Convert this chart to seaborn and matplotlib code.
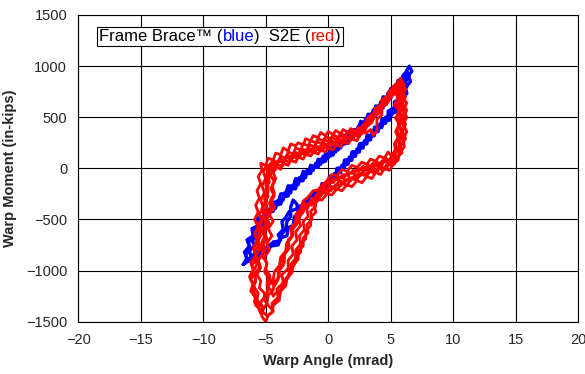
import pandas as pd
import matplotlib
matplotlib.use("Agg")
import matplotlib.pyplot as plt
import seaborn as sns
from matplotlib.offsetbox import TextArea, HPacker, AnchoredOffsetbox

# warp angle (mrad), warp moment (in-kips) traced off the loops, noise included
# Frame Brace (blue)
blue_c1 = [(-6.8,-940),(-6.5,-880),(-6.7,-820),(-6.3,-760),(-6.5,-700),(-6.0,-660),(-6.1,-590),(-5.6,-560),
           (-5.7,-490),(-5.2,-470),(-5.0,-400),(-4.6,-400),(-4.4,-330),(-4.0,-330),(-3.8,-250),(-3.4,-250),
           (-3.2,-170),(-2.8,-180),(-2.6,-100),(-2.2,-110),(-2.0,-30),(-1.6,-50),(-1.4,30),(-1.0,10),
           (-0.8,90),(-0.4,60),(-0.2,150),(0.2,120),(0.4,210),(0.8,180),(1.0,260),(1.4,240),(1.6,320),
           (2.0,290),(2.2,380),(2.6,350),(2.8,450),(3.2,420),(3.4,530),(3.8,510),(4.0,610),(4.4,590),
           (4.6,690),(5.0,680),(5.2,780),(5.6,770),(5.8,870),(6.1,880),(6.3,960),(6.5,1000),
           (6.7,950),(6.4,900),(6.6,850),(6.2,790),(6.3,730),(5.8,700),(5.9,640),(5.4,610),(5.4,550),
           (4.9,530),(4.9,470),(4.4,460),(4.3,400),(3.8,390),(3.7,320),(3.2,310),(3.1,240),(2.6,230),
           (2.5,160),(2.0,150),(1.9,80),(1.4,70),(1.3,0),(0.8,-10),(0.7,-80),(0.2,-90),(0.1,-160),
           (-0.4,-160),(-0.5,-230),(-1.0,-230),(-1.1,-300),(-1.6,-300),(-1.8,-370),(-2.2,-380),
           (-2.3,-460),(-2.7,-470),(-2.8,-560),(-3.2,-580),(-3.3,-660),(-3.8,-680),(-4.0,-750),
           (-4.6,-760),(-4.9,-820),(-5.5,-830),(-5.8,-890),(-6.3,-900),(-6.8,-940)]
blue_c2 = [(-6.5,-900),(-6.6,-840),(-6.2,-790),(-6.4,-720),(-5.9,-690),(-6.0,-620),(-5.5,-590),(-5.6,-520),
           (-5.0,-500),(-4.9,-440),(-4.4,-420),(-4.3,-360),(-3.8,-350),(-3.6,-280),(-3.2,-270),(-3.1,-200),
           (-2.6,-200),(-2.5,-130),(-2.0,-120),(-1.9,-50),(-1.4,-50),(-1.2,20),(-0.8,10),(-0.6,90),
           (-0.2,70),(0.0,150),(0.4,130),(0.6,220),(1.0,200),(1.2,280),(1.6,260),(1.8,350),(2.2,330),
           (2.4,410),(2.8,400),(3.0,490),(3.4,470),(3.6,570),(4.0,550),(4.2,650),(4.6,640),(4.8,740),
           (5.2,730),(5.4,820),(5.8,830),(6.0,910),(6.3,950),
           (6.5,900),(6.2,860),(6.3,800),(5.9,760),(6.0,700),(5.6,670),(5.6,610),(5.1,580),(5.1,520),
           (4.6,500),(4.6,440),(4.1,430),(4.0,360),(3.5,350),(3.4,280),(2.9,270),(2.8,200),(2.3,190),
           (2.2,120),(1.7,110),(1.6,40),(1.1,30),(1.0,-40),(0.5,-50),(0.4,-120),(-0.1,-130),(-0.2,-190),
           (-0.7,-200),(-0.8,-260),(-1.3,-270),(-1.4,-340),(-1.9,-340),(-2.0,-420),(-2.4,-430),
           (-2.5,-350),(-2.8,-310),(-3.0,-380),(-3.0,-470),(-3.3,-520),(-3.4,-600),(-3.7,-640),
           (-3.9,-710),(-4.4,-720),(-4.7,-780),(-5.3,-790),(-5.6,-850),(-6.1,-860),(-6.5,-900)]
blue_c3 = [(-6.2,-860),(-6.3,-800),(-5.9,-760),(-6.1,-690),(-5.6,-660),(-5.7,-590),(-5.2,-560),(-5.3,-490),
           (-4.8,-470),(-4.7,-410),(-4.2,-390),(-4.1,-320),(-3.6,-310),(-3.5,-240),(-3.0,-240),(-2.9,-170),
           (-2.4,-160),(-2.3,-90),(-1.8,-90),(-1.7,-20),(-1.2,-20),(-1.0,50),(-0.6,40),(-0.4,120),
           (0.0,100),(0.2,180),(0.6,160),(0.8,240),(1.2,230),(1.4,310),(1.8,300),(2.0,380),(2.4,370),
           (2.6,460),(3.0,440),(3.2,530),(3.6,520),(3.8,610),(4.2,600),(4.4,700),(4.8,690),(5.0,780),
           (5.4,790),(5.6,860),(6.0,870),(6.2,930),
           (6.4,880),(6.0,830),(6.1,770),(5.7,740),(5.8,680),(5.3,650),(5.3,590),(4.8,560),(4.8,500),
           (4.3,480),(4.2,420),(3.7,400),(3.6,330),(3.1,320),(3.0,250),(2.5,240),(2.4,170),(1.9,160),
           (1.8,90),(1.3,80),(1.2,10),(0.7,0),(0.6,-70),(0.1,-80),(0.0,-150),(-0.5,-150),(-0.6,-220),
           (-1.1,-230),(-1.2,-290),(-1.7,-300),(-1.9,-360),(-2.3,-370),(-2.6,-400),(-3.1,-420),
           (-3.4,-480),(-3.7,-520),(-3.6,-600),(-4.0,-650),(-3.8,-700),(-4.1,-720),(-4.6,-740),
           (-5.0,-790),(-5.5,-800),(-5.9,-840),(-6.2,-860)]

# S2E (red)
red_c1 = [(5.8,880),(6.1,820),(5.8,760),(6.2,700),(5.9,630),(6.3,570),(6.0,500),(6.2,430),(5.9,360),
          (6.2,290),(5.8,220),(5.9,150),(5.5,110),(5.3,40),(4.9,50),(4.6,-10),(4.2,20),(3.9,-40),
          (3.5,-10),(3.1,-70),(2.7,-40),(2.3,-110),(1.9,-90),(1.5,-170),(1.1,-140),(0.7,-210),(0.3,-190),
          (-0.1,-250),(-0.5,-230),(-0.9,-300),(-1.3,-290),(-1.6,-360),(-1.9,-340),(-2.0,-430),(-2.4,-480),
          (-2.2,-560),(-2.6,-620),(-2.5,-700),(-2.9,-760),(-2.8,-840),(-3.2,-900),(-3.2,-980),
          (-3.7,-1040),(-3.6,-1120),(-4.1,-1180),(-4.0,-1260),(-4.5,-1320),(-4.4,-1400),(-4.8,-1440),
          (-5.0,-1500),(-5.3,-1450),(-5.4,-1380),(-5.8,-1340),(-5.8,-1260),(-6.2,-1200),(-6.0,-1130),
          (-6.3,-1060),(-6.0,-990),(-6.2,-920),(-5.8,-850),(-6.0,-780),(-5.7,-710),(-5.9,-640),
          (-5.6,-570),(-5.9,-500),(-5.6,-430),(-5.8,-360),(-5.5,-290),(-5.7,-220),(-5.4,-150),
          (-5.6,-80),(-5.3,-20),(-5.4,50),(-5.0,30),(-4.8,100),(-4.4,80),(-4.2,150),(-3.8,130),
          (-3.6,200),(-3.2,170),(-3.0,240),(-2.6,220),(-2.4,250),(-2.0,230),(-1.8,290),(-1.4,270),
          (-1.2,320),(-0.8,300),(-0.6,350),(-0.2,320),(0.0,360),(0.4,330),(0.6,370),(1.0,340),
          (1.2,380),(1.6,350),(1.8,390),(2.2,360),(2.4,400),(2.8,370),(3.0,340),(3.4,380),(3.6,320),
          (3.9,370),(3.9,480),(4.3,520),(4.3,590),(4.7,630),(4.8,700),(5.1,740),(5.2,800),(5.5,830),
          (5.8,880)]
red_c2 = [(5.7,850),(5.9,790),(5.6,730),(6.0,670),(5.7,600),(6.1,540),(5.8,470),(6.1,400),(5.8,330),
          (6.0,260),(5.6,200),(5.7,130),(5.3,90),(5.1,30),(4.7,40),(4.4,-20),(4.0,10),(3.7,-50),
          (3.3,-20),(2.9,-70),(2.5,-50),(2.1,-110),(1.7,-90),(1.3,-140),(0.9,-120),(0.5,-190),(0.1,-170),
          (-0.3,-230),(-0.7,-220),(-1.1,-290),(-1.4,-330),(-1.7,-400),(-1.6,-470),(-2.0,-520),
          (-1.9,-600),(-2.3,-660),(-2.2,-740),(-2.6,-800),(-2.6,-880),(-3.0,-940),(-3.0,-1020),
          (-3.4,-1080),(-3.5,-1150),(-3.9,-1210),(-3.9,-1290),(-4.4,-1340),(-4.5,-1410),(-4.9,-1440),
          (-5.2,-1410),(-5.3,-1340),(-5.7,-1290),(-5.6,-1220),(-6.0,-1150),(-5.8,-1080),(-6.0,-1010),
          (-5.7,-940),(-5.9,-870),(-5.5,-800),(-5.7,-730),(-5.4,-660),(-5.6,-590),(-5.3,-520),
          (-5.5,-450),(-5.2,-380),(-5.4,-310),(-5.1,-240),(-5.3,-170),(-5.0,-100),(-5.2,-30),
          (-4.9,30),(-4.6,10),(-4.4,70),(-4.0,60),(-3.8,120),(-3.4,100),(-3.2,160),(-2.8,140),
          (-2.6,200),(-2.2,180),(-2.0,240),(-1.6,220),(-1.4,270),(-1.0,250),(-0.8,290),(-0.4,270),
          (-0.2,310),(0.2,290),(0.4,330),(0.8,300),(1.0,340),(1.4,320),(1.6,360),(2.0,330),(2.2,370),
          (2.6,350),(2.8,400),(3.1,440),(3.3,490),(3.6,520),(3.8,580),(4.2,610),(4.3,670),(4.7,700),
          (4.9,760),(5.3,790),(5.7,850)]
red_c3 = [(5.6,800),(5.8,740),(5.5,680),(5.9,620),(5.6,550),(5.9,490),(5.6,420),(5.9,350),(5.6,290),
          (5.7,220),(5.3,170),(5.3,100),(4.9,70),(4.6,100),(4.3,40),(3.9,60),(3.6,10),(3.2,30),
          (2.8,-20),(2.4,0),(2.0,-50),(1.6,-40),(1.2,-100),(0.8,-80),(0.4,-140),(0.0,-130),(-0.4,-200),
          (-0.7,-230),(-1.0,-300),(-1.0,-370),(-1.4,-420),(-1.3,-500),(-1.7,-550),(-1.6,-630),
          (-2.0,-680),(-2.0,-760),(-2.4,-810),(-2.4,-890),(-2.8,-950),(-2.9,-1020),(-3.3,-1080),
          (-3.4,-1150),(-3.8,-1200),(-3.9,-1270),(-4.3,-1310),(-4.5,-1380),(-4.8,-1340),(-5.1,-1290),
          (-5.1,-1220),(-5.5,-1170),(-5.4,-1100),(-5.7,-1040),(-5.4,-970),(-5.6,-900),(-5.2,-830),
          (-5.4,-760),(-5.0,-690),(-5.3,-620),(-4.9,-550),(-5.2,-480),(-4.8,-410),(-5.1,-340),
          (-4.8,-270),(-5.0,-200),(-4.7,-130),(-4.9,-60),(-4.6,0),(-4.3,-20),(-4.1,40),(-3.7,20),
          (-3.5,80),(-3.1,60),(-2.9,120),(-2.5,100),(-2.3,160),(-1.9,140),(-1.7,190),(-1.3,170),
          (-1.1,220),(-0.7,200),(-0.5,240),(-0.1,220),(0.1,260),(0.5,240),(0.7,290),(1.1,270),
          (1.3,310),(1.7,290),(1.9,340),(2.3,320),(2.5,370),(2.9,400),(3.1,460),(3.5,490),(3.7,550),
          (4.1,580),(4.3,640),(4.7,670),(4.9,720),(5.3,760),(5.6,800)]
red_c4 = [(5.4,740),(5.6,680),(5.3,620),(5.7,560),(5.4,490),(5.7,430),(5.4,360),(5.6,300),(5.3,240),
          (5.4,170),(5.0,130),(4.8,160),(4.5,100),(4.1,120),(3.8,70),(3.4,90),(3.1,40),(2.7,60),
          (2.3,10),(1.9,30),(1.5,-30),(1.1,-10),(0.7,-70),(0.3,-60),(-0.1,-120),(-0.4,-160),(-0.7,-230),
          (-0.7,-300),(-1.1,-350),(-1.0,-430),(-1.4,-480),(-1.4,-560),(-1.8,-610),(-1.8,-690),
          (-2.2,-740),(-2.2,-820),(-2.6,-870),(-2.7,-940),(-3.1,-1000),(-3.2,-1070),(-3.6,-1120),
          (-3.8,-1190),(-4.2,-1220),(-4.4,-1250),(-4.6,-1190),(-4.9,-1140),(-4.8,-1070),(-5.1,-1010),
          (-4.9,-940),(-5.1,-870),(-4.7,-800),(-4.9,-730),(-4.5,-660),(-4.8,-590),(-4.4,-520),
          (-4.7,-450),(-4.3,-380),(-4.6,-310),(-4.3,-240),(-4.5,-170),(-4.2,-100),(-4.4,-40),(-4.1,10),
          (-3.8,-10),(-3.6,50),(-3.2,30),(-3.0,80),(-2.6,60),(-2.4,110),(-2.0,90),(-1.8,140),
          (-1.4,120),(-1.2,160),(-0.8,140),(-0.6,180),(-0.2,160),(0.0,200),(0.4,180),(0.6,230),
          (1.0,210),(1.2,260),(1.6,240),(1.9,290),(2.3,270),(2.5,320),(2.9,360),(3.1,410),(3.5,450),
          (3.7,510),(4.1,540),(4.3,600),(4.7,630),(4.9,680),(5.4,740)]
red_c5 = [(5.9,840),(6.2,770),(5.9,700),(6.3,640),(6.0,570),(6.3,500),(6.0,430),(6.3,360),(6.0,290),
          (6.1,210),(5.7,150),(5.6,80),(5.2,40),(4.9,-20),(4.5,0),(4.2,-60),(3.8,-40),(3.5,-100),
          (3.1,-80),(2.7,-140),(2.3,-120),(1.9,-180),(1.5,-160),(1.1,-220),(0.7,-200),(0.3,-260),
          (-0.1,-250),(-0.5,-310),(-0.9,-300),(-1.3,-360),(-1.7,-350),(-2.0,-410),(-2.4,-440),
          (-2.5,-520),(-2.9,-570),(-2.8,-650),(-3.2,-700),(-3.1,-780),(-3.5,-840),(-3.5,-920),
          (-3.9,-980),(-3.9,-1060),(-4.3,-1110),(-4.4,-1190),(-4.8,-1240),(-4.9,-1320),(-5.2,-1380),
          (-5.4,-1420),(-5.6,-1360),(-5.9,-1310),(-5.8,-1240),(-6.1,-1180),(-5.8,-1110),(-5.9,-1040),
          (-5.5,-970),(-5.6,-900),(-5.2,-830),(-5.3,-760),(-4.9,-690),(-5.1,-620),(-4.7,-550),
          (-4.9,-480),(-4.5,-410),(-4.7,-340),(-4.3,-270),(-4.6,-200),(-4.3,-130),(-4.6,-70),(-4.4,0),
          (-4.8,20),(-4.5,60),(-4.1,40),(-3.9,90),(-3.5,70),(-3.3,110),(-2.9,90),(-2.7,130),(-2.3,110),
          (-2.1,150),(-1.7,130),(-1.5,170),(-1.1,150),(-0.9,190),(-0.5,170),(-0.3,210),(0.1,190),
          (0.3,240),(0.7,220),(0.9,270),(1.3,250),(1.5,300),(1.9,280),(2.1,330),(2.5,310),(2.7,370),
          (3.0,420),(3.2,480),(3.6,510),(3.8,570),(4.2,600),(4.4,660),(4.8,690),(5.0,750),(5.4,790),
          (5.9,840)]
red_c6 = [(5.5,760),(5.7,700),(5.5,640),(5.8,580),(5.5,510),(5.8,450),(5.5,380),(5.7,320),(5.4,250),
          (5.5,180),(5.1,120),(4.8,70),(4.4,80),(4.0,30),(3.6,50),(3.2,0),(2.8,20),(2.4,-30),(2.0,-20),
          (1.6,-70),(1.2,-60),(0.8,-110),(0.4,-100),(0.0,-150),(-0.4,-150),(-0.8,-210),(-1.2,-220),
          (-1.6,-280),(-2.0,-320),(-2.2,-400),(-2.6,-450),(-2.6,-530),(-3.0,-590),(-2.9,-670),
          (-3.3,-730),(-3.3,-810),(-3.7,-870),(-3.6,-950),(-4.0,-1010),(-4.0,-1090),(-4.3,-1150),
          (-4.6,-1110),(-4.7,-1040),(-5.0,-990),(-4.9,-920),(-5.3,-860),(-5.0,-790),(-5.3,-720),
          (-5.0,-650),(-5.2,-580),(-4.9,-510),(-5.2,-440),(-4.9,-370),(-5.1,-300),(-4.8,-230),
          (-5.0,-160),(-4.7,-90),(-4.9,-20),(-4.6,40),(-4.2,20),(-4.0,70),(-3.6,60),(-3.4,110),
          (-3.0,90),(-2.8,140),(-2.4,120),(-2.2,170),(-1.8,150),(-1.6,200),(-1.2,180),(-1.0,220),
          (-0.6,200),(-0.4,250),(0.0,230),(0.2,270),(0.6,250),(0.8,290),(1.2,270),(1.4,310),(1.8,290),
          (2.0,330),(2.4,310),(2.6,350),(3.0,390),(3.2,450),(3.6,480),(3.8,540),(4.2,570),(4.4,620),
          (4.8,650),(5.0,700),(5.5,760)]
red_c7 = [(5.7,820),(5.9,760),(5.7,690),(6.0,630),(5.7,560),(6.0,490),(5.7,420),(6.0,350),(5.7,280),
          (5.8,210),(5.4,150),(5.3,90),(4.9,50),(4.5,70),(4.2,10),(3.8,30),(3.4,-30),(3.0,-10),
          (2.6,-70),(2.2,-60),(1.8,-120),(1.4,-110),(1.0,-170),(0.6,-160),(0.2,-220),(-0.2,-210),
          (-0.6,-270),(-1.0,-280),(-1.4,-340),(-1.8,-380),(-2.2,-450),(-2.4,-530),(-2.8,-590),
          (-2.9,-670),(-3.3,-730),(-3.4,-810),(-3.8,-870),(-3.9,-950),(-4.3,-1010),(-4.4,-1090),
          (-4.8,-1150),(-4.9,-1230),(-5.3,-1290),(-5.5,-1350),(-5.7,-1290),(-6.0,-1230),(-5.9,-1160),
          (-6.2,-1090),(-5.9,-1020),(-6.1,-950),(-5.7,-880),(-5.9,-810),(-5.5,-740),(-5.7,-670),
          (-5.3,-600),(-5.5,-530),(-5.1,-460),(-5.3,-390),(-4.9,-320),(-5.1,-250),(-4.8,-180),
          (-5.0,-110),(-4.7,-50),(-4.9,10),(-4.5,50),(-4.2,30),(-3.9,90),(-3.5,70),(-3.3,130),
          (-2.9,110),(-2.7,160),(-2.3,140),(-2.1,190),(-1.7,170),(-1.5,230),(-1.1,210),(-0.9,260),
          (-0.5,240),(-0.3,280),(0.1,260),(0.3,300),(0.7,280),(0.9,320),(1.3,300),(1.5,350),(1.9,330),
          (2.1,370),(2.5,350),(2.7,410),(3.0,450),(3.2,500),(3.6,530),(3.8,590),(4.2,620),(4.4,680),
          (4.8,710),(5.0,760),(5.3,790),(5.7,820)]

x_ticks = [-20, -15, -10, -5, 0, 5, 10, 15, 20]
y_ticks = [-1500, -1000, -500, 0, 500, 1000, 1500]


def to_frame(cycles):
    rows = []
    for i, cyc in enumerate(cycles):
        for k, (a, m) in enumerate(cyc):
            rows.append({"cycle": i, "step": k, "angle": a, "moment": m})
    return pd.DataFrame(rows)


blue_df = to_frame([blue_c1, blue_c2, blue_c3])
red_df = to_frame([red_c1, red_c2, red_c3, red_c4, red_c5, red_c6, red_c7])

sns.set_style("white")
plt.rcParams["font.family"] = ["Liberation Sans", "DejaVu Sans"]

fig = plt.figure(figsize=(5.85, 3.74), dpi=100)
ax = fig.add_axes([78.3 / 585, 1 - 321.7 / 374, (578 - 78.3) / 585, (321.7 - 15) / 374])

sns.lineplot(data=blue_df, x="angle", y="moment", units="cycle", estimator=None, sort=False,
             color="#0000ff", lw=2.4, ax=ax)
sns.lineplot(data=red_df, x="angle", y="moment", units="cycle", estimator=None, sort=False,
             color="#ff0000", lw=2.0, ax=ax)

ax.set_xlim(-20, 20)
ax.set_ylim(-1500, 1500)
ax.set_xticks(x_ticks)
ax.set_yticks(y_ticks)
ax.grid(True, color="black", lw=0.8)
ax.set_axisbelow(True)
for s in ax.spines.values():
    s.set_color("black")
    s.set_linewidth(0.8)
ax.tick_params(direction="out", length=3, width=0.8, color="black", labelsize=10.5, pad=5)
ax.set_xlabel("Warp Angle (mrad)", fontsize=10.5, fontweight="bold", labelpad=5)
ax.set_ylabel("Warp Moment (in-kips)", fontsize=10.5, fontweight="bold", labelpad=6)

# legend-like caption with coloured words
parts = [("Frame Brace™ (", "black"), ("blue", "#0000ff"), (")  S2E (", "black"),
         ("red", "#ff0000"), (")", "black")]
boxes = [TextArea(t, textprops=dict(color=c, fontsize=12)) for t, c in parts]
pack = HPacker(children=boxes, align="baseline", pad=0, sep=0)
anch = AnchoredOffsetbox(loc="upper left", child=pack, pad=0.15, borderpad=0, frameon=True,
                         bbox_to_anchor=((97 - 78.3) / (578 - 78.3), (321.7 - 27) / 306.7),
                         bbox_transform=ax.transAxes)
anch.patch.set_boxstyle("square", pad=0)
anch.patch.set_edgecolor("black")
anch.patch.set_linewidth(0.8)
anch.zorder = 5
ax.add_artist(anch)

fig.savefig("out.png", dpi=100)
